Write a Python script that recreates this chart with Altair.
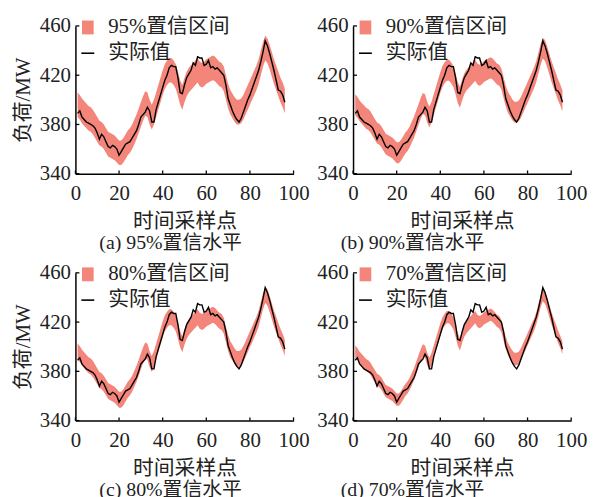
import altair as alt
import pandas as pd

t = list(range(1, 97))
actual = [389, 391, 386, 384, 382, 381, 380, 379, 377, 373,
          368, 372, 370, 366, 362, 361, 363, 362, 360, 355,
          358, 361, 364, 365, 366, 369, 372, 375, 380, 386,
          388, 390, 394, 391, 382, 382, 392, 398, 404, 410,
          416, 420, 426, 428, 427, 427, 418, 406, 405, 412,
          418, 421, 424, 430, 428, 435, 434, 434, 428, 429,
          432, 426, 427, 425, 426, 424, 422, 420, 412, 401,
          396, 391, 387, 384, 382, 385, 390, 395, 400, 404,
          409, 414, 419, 424, 431, 439, 448, 444, 438, 431,
          424, 416, 408, 407, 404, 398]
pred = [396, 394, 391, 389, 387, 385, 384, 382, 379, 376,
        373, 372, 370, 367, 364, 363, 362, 361, 359, 357,
        357, 359, 362, 365, 367, 370, 374, 378, 383, 388,
        393, 397, 396, 390, 386, 390, 396, 402, 408, 414,
        419, 422, 424, 424, 422, 419, 413, 406, 402, 408,
        413, 416, 418, 420, 422, 424, 421, 420, 421, 423,
        424, 425, 426, 425, 423, 421, 420, 417, 410, 403,
        398, 395, 392, 390, 390, 391, 394, 398, 402, 406,
        410, 414, 418, 423, 430, 437, 442, 440, 435, 429,
        423, 418, 413, 408, 404, 399]

levels = ["95%", "90%", "80%", "70%"]
half_widths = [10, 8.5, 6.5, 5]
captions = ["(a)  95%置信水平", "(b)  90%置信水平", "(c)  80%置信水平", "(d)  70%置信水平"]
x_ticks = [0, 20, 40, 60, 80, 100]
y_ticks = [340, 380, 420, 460]

BAND = "#F3857A"
FONT = "Liberation Serif, Times New Roman, Noto Sans CJK SC"
W, H = 220, 149

rect_path = "M-0.84,-1L0.84,-1L0.84,1L-0.84,1Z"


def panel(i):
    hw = half_widths[i]
    band_label = levels[i] + "置信区间"
    df = pd.DataFrame({
        "t": t,
        "actual": actual,
        "lo": [p - hw for p in pred],
        "hi": [p + hw for p in pred],
        "band": [band_label] * len(t),
        "line": ["实际值"] * len(t),
    })
    xs = alt.Scale(domain=[0, 100], nice=False)
    ys = alt.Scale(domain=[340, 460], nice=False)
    left = i % 2 == 0
    xaxis = alt.Axis(values=x_ticks, ticks=False, title="时间采样点", labelPadding=9,
                     titlePadding=7, labelFlush=False)
    yaxis = alt.Axis(values=y_ticks, ticks=False, title="负荷/MW" if left else None,
                     labelPadding=5, titlePadding=6)

    area = alt.Chart(df).mark_area(opacity=1).encode(
        x=alt.X("t:Q", scale=xs, axis=xaxis),
        y=alt.Y("lo:Q", scale=ys, axis=yaxis),
        y2="hi:Q",
        fill=alt.Fill("band:N", scale=alt.Scale(domain=[band_label], range=[BAND]),
                      legend=alt.Legend(title=None, orient="none", legendX=2, legendY=-9,
                                        symbolType=rect_path, symbolSize=196,
                                        symbolStrokeWidth=0, symbolOpacity=1,
                                        labelFontSize=21, labelFont=FONT, labelColor="#222",
                                        labelOffset=10, padding=0)),
    )
    line = alt.Chart(df).mark_line(color="black", strokeWidth=1.4).encode(
        x="t:Q",
        y="actual:Q",
        stroke=alt.Stroke("line:N", scale=alt.Scale(domain=["实际值"], range=["black"]),
                          legend=alt.Legend(title=None, orient="none", legendX=2, legendY=17,
                                            symbolType="stroke", symbolSize=169,
                                            symbolStrokeWidth=1.6,
                                            labelFontSize=21, labelFont=FONT, labelColor="#222",
                                            labelOffset=10, padding=0)),
    )
    xt = pd.DataFrame({"v": x_ticks})
    yt = pd.DataFrame({"v": y_ticks})
    xtick = alt.Chart(xt).mark_rule(color="black", strokeWidth=1.3).encode(
        x="v:Q", y=alt.datum(340), y2=alt.datum(342.6))
    ytick = alt.Chart(yt).mark_rule(color="black", strokeWidth=1.3).encode(
        y="v:Q", x=alt.datum(0), x2=alt.datum(1.8))
    dx = -14 if left else -50
    return alt.layer(area, line, xtick, ytick).properties(
        width=W, height=H,
        title=alt.TitleParams(text=captions[i], orient="bottom", anchor="middle",
                              frame="group", dx=dx, offset=2, fontSize=20, font=FONT,
                              fontWeight="normal", color="#222"),
    ).resolve_scale(fill="independent", stroke="independent")


chart = alt.concat(panel(0), panel(1), panel(2), panel(3), columns=2,
                   spacing={"row": 100, "column": 60}, bounds="flush").resolve_scale(
    fill="independent", stroke="independent"
).configure_view(stroke=None).configure_axis(
    domainColor="black", domainWidth=1.5, grid=False,
    labelFont=FONT, labelFontSize=21, labelColor="#222",
    titleFont=FONT, titleFontSize=21, titleFontWeight="normal", titleColor="#222",
).properties(padding={"left": 4, "top": 5, "right": 5, "bottom": 0}, background="white")

chart.save("out.html", embed_options={"renderer": "svg", "actions": False})
